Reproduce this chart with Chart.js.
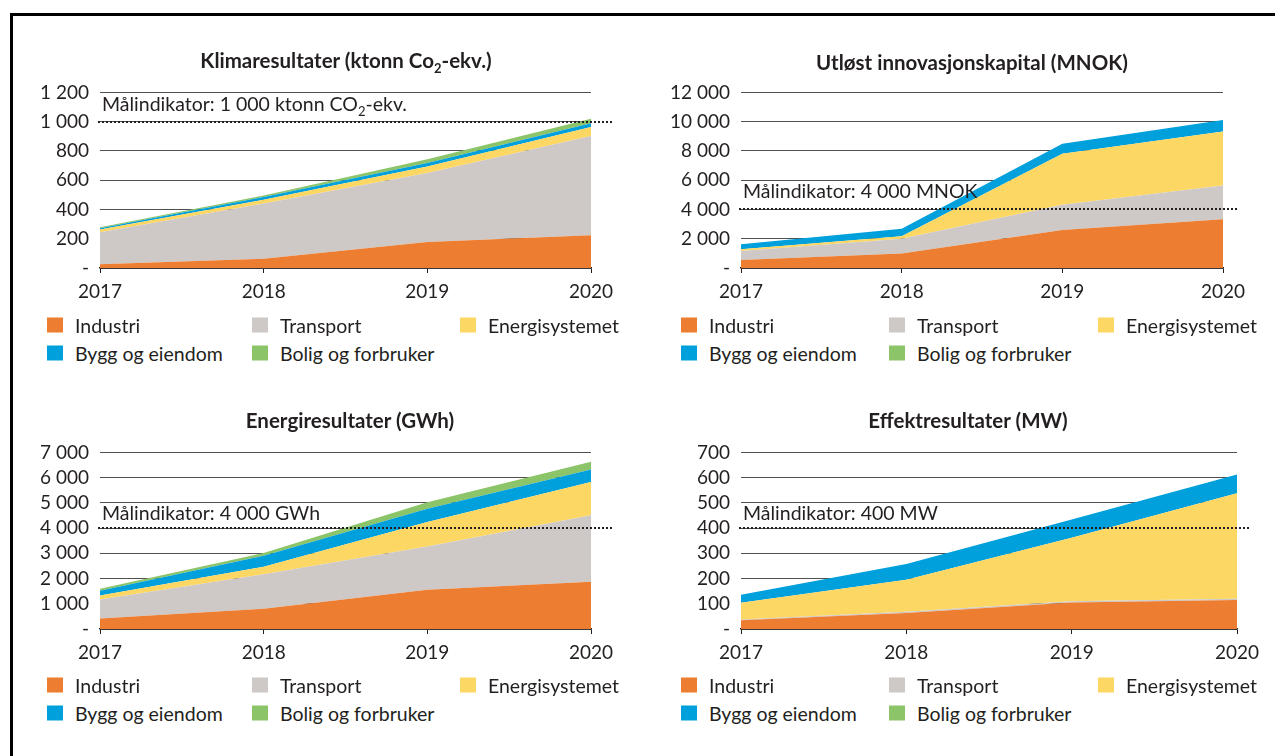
<!DOCTYPE html>
<html>
<head>
<meta charset="utf-8">
<script src="https://cdn.jsdelivr.net/npm/chart.js@4"></script>
<style>
  body { margin: 0; background: #fff; font-family: Lato, "Open Sans", sans-serif; color: #231f20; }
  #page { position: relative; width: 1275px; height: 756px; overflow: hidden; }
  .frameTop { position: absolute; left: 10px; top: 13px; right: 0; height: 3px; background: #000; }
  .frameLeft { position: absolute; left: 10px; top: 13px; bottom: 0; width: 3px; background: #000; }
  canvas { position: absolute; }
  .title { position: absolute; font-weight: bold; font-size: 20.5px; white-space: nowrap; transform: translate(-50%, -50%); }
  .title sub { font-size: 13px; vertical-align: -5px; }
  .leg { position: absolute; font-size: 19.5px; white-space: nowrap; transform: translateY(-50%); display: flex; align-items: center; }
  .leg span.box { display: inline-block; width: 16px; height: 15px; margin-right: 12px; }
</style>
</head>
<body>
<div id="page">
  <div class="frameTop"></div>
  <div class="frameLeft"></div>
</div>
<script>
// Data
const years = ['2017', '2018', '2019', '2020'];
const seriesNames = ['Industri', 'Transport', 'Energisystemet', 'Bygg og eiendom', 'Bolig og forbruker'];
const seriesColors = ['#ed7d31', '#cec9c6', '#fdd764', '#00a0dc', '#8cc46a'];

// Klimaresultater (ktonn CO2-ekv.)
const klimaIndustri = [25, 63, 178, 223];
const klimaTransport = [220, 377, 472, 679];
const klimaEnergi = [18, 27, 43, 61];
const klimaBygg = [9, 18, 24, 27];
const klimaBolig = [6, 11, 27, 30];

// Utløst innovasjonskapital (MNOK)
const innovIndustri = [540, 990, 2600, 3330];
const innovTransport = [625, 1010, 1720, 2310];
const innovEnergi = [115, 175, 3490, 3690];
const innovBygg = [335, 500, 680, 790];
const innovBolig = [0, 0, 0, 0];

// Energiresultater (GWh)
const energiIndustri = [420, 800, 1560, 1870];
const energiTransport = [750, 1370, 1710, 2640];
const energiEnergi = [155, 300, 975, 1320];
const energiBygg = [195, 430, 520, 495];
const energiBolig = [80, 115, 260, 300];

// Effektresultater (MW)
const effektIndustri = [35, 63, 105, 115];
const effektTransport = [3, 5, 5, 5];
const effektEnergi = [66, 127, 252, 418];
const effektBygg = [32, 63, 72, 74];
const effektBolig = [0, 0, 0, 0];

const yTicksKlima = [0, 200, 400, 600, 800, 1000, 1200];
const yTicksInnov = [0, 2000, 4000, 6000, 8000, 10000, 12000];
const yTicksEnergi = [0, 1000, 2000, 3000, 4000, 5000, 6000, 7000];
const yTicksEffekt = [0, 100, 200, 300, 400, 500, 600, 700];

const targetKlima = 1000;
const targetInnov = 4000;
const targetEnergi = 4000;
const targetEffekt = 400;

Chart.defaults.font.family = 'Lato, "Open Sans", sans-serif';
Chart.defaults.font.size = 19;
Chart.defaults.color = '#231f20';
Chart.defaults.animation = false;

function fmt(v) {
    if (v === 0) return '-';
    return String(v).replace(/\B(?=(\d{3})+(?!\d))/g, ' ');
}

// dotted target line with its label
const targetPlugin = {
    id: 'target',
    afterDatasetsDraw(chart, args, opts) {
        const ctx = chart.ctx;
        const y = Math.round(chart.scales.y.getPixelForValue(opts.value));
        const a = chart.chartArea;
        ctx.save();
        ctx.strokeStyle = '#231f20';
        ctx.lineWidth = 2;
        ctx.setLineDash([2, 2]);
        ctx.beginPath();
        ctx.moveTo(a.left - 2, y);
        ctx.lineTo(a.right + opts.ext, y);
        ctx.stroke();
        ctx.setLineDash([]);
        ctx.fillStyle = '#231f20';
        ctx.textBaseline = 'alphabetic';
        var x = a.left + 2;
        for (var part of opts.label) {
            if (part.sub) {
                ctx.font = '13px Lato, "Open Sans", sans-serif';
                ctx.fillText(part.t, x, y - opts.up + 5);
            } else {
                ctx.font = '19.5px Lato, "Open Sans", sans-serif';
                ctx.fillText(part.t, x, y - opts.up);
            }
            x += ctx.measureText(part.t).width;
        }
        ctx.restore();
    }
};

function makeChart(c) {
    const page = document.getElementById('page');
    const canvas = document.createElement('canvas');
    canvas.width = c.w;
    canvas.height = c.h;
    canvas.style.left = c.x + 'px';
    canvas.style.top = c.y + 'px';
    canvas.style.width = c.w + 'px';
    canvas.style.height = c.h + 'px';
    page.appendChild(canvas);

    var datasets = [];
    for (var i = 0; i < c.series.length; i++) {
        datasets.push({
            label: seriesNames[i],
            data: c.series[i],
            backgroundColor: seriesColors[i],
            borderWidth: 0,
            pointRadius: 0,
            fill: i === 0 ? 'origin' : '-1',
            tension: 0
        });
    }

    const axisBottom = c.h - (c.bottom - c.y);
    new Chart(canvas, {
        type: 'line',
        data: { labels: years, datasets: datasets },
        options: {
            responsive: false,
            devicePixelRatio: 1,
            layout: {
                padding: { left: 0, right: c.x + c.w - c.right, top: c.top - c.y, bottom: 0 }
            },
            plugins: {
                legend: { display: false },
                tooltip: { enabled: false },
                target: { value: c.target, ext: c.ext, up: c.up, label: c.label }
            },
            scales: {
                x: {
                    type: 'category',
                    offset: false,
                    grid: { drawOnChartArea: false, drawTicks: true, tickLength: 5, color: '#231f20', lineWidth: 1 },
                    border: { display: true, color: '#231f20', width: 1.5 },
                    ticks: { padding: 7, maxRotation: 0, autoSkip: false },
                    afterFit(axis) { axis.height = axisBottom; }
                },
                y: {
                    stacked: true,
                    min: 0,
                    max: c.yTicks[c.yTicks.length - 1],
                    afterBuildTicks(axis) { axis.ticks = c.yTicks.map(v => ({ value: v })); },
                    grid: { color: '#505050', lineWidth: 1, drawTicks: false },
                    border: { display: false },
                    ticks: { padding: 11, autoSkip: false, callback: v => fmt(v) },
                    afterFit(axis) { axis.width = c.left - c.x; }
                }
            }
        },
        plugins: [targetPlugin]
    });

    const t = document.createElement('div');
    t.className = 'title';
    t.innerHTML = c.title;
    t.style.left = c.titleX + 'px';
    t.style.top = c.titleY + 'px';
    page.appendChild(t);

    const rows = [c.legRow1, c.legRow1, c.legRow1, c.legRow2, c.legRow2];
    const cols = [c.legCols[0], c.legCols[1], c.legCols[2], c.legCols[0], c.legCols[1]];
    for (var j = 0; j < seriesNames.length; j++) {
        const d = document.createElement('div');
        d.className = 'leg';
        d.style.left = cols[j] + 'px';
        d.style.top = rows[j] + 'px';
        d.innerHTML = '<span class="box" style="background:' + seriesColors[j] + '"></span>' + seriesNames[j];
        page.appendChild(d);
    }
}

makeChart({
    x: 0, y: 70, w: 640, h: 245, left: 100, right: 591, top: 91, bottom: 268,
    series: [klimaIndustri, klimaTransport, klimaEnergi, klimaBygg, klimaBolig],
    yTicks: yTicksKlima, target: targetKlima, ext: 22, up: 11,
    label: [{ t: 'Målindikator: 1 000 ktonn CO' }, { t: '2', sub: true }, { t: '-ekv.' }],
    title: 'Klimaresultater (ktonn Co<sub>2</sub>-ekv.)', titleX: 346, titleY: 62,
    legRow1: 325, legRow2: 353, legCols: [47, 252, 460]
});

makeChart({
    x: 640, y: 70, w: 635, h: 245, left: 741, right: 1223, top: 91, bottom: 268,
    series: [innovIndustri, innovTransport, innovEnergi, innovBygg, innovBolig],
    yTicks: yTicksInnov, target: targetInnov, ext: 14, up: 11,
    label: [{ t: 'Målindikator: 4 000 MNOK' }],
    title: 'Utløst innovasjonskapital (MNOK)', titleX: 972, titleY: 62,
    legRow1: 325, legRow2: 353, legCols: [681, 889, 1098]
});

makeChart({
    x: 0, y: 430, w: 640, h: 245, left: 100, right: 591, top: 449, bottom: 629,
    series: [energiIndustri, energiTransport, energiEnergi, energiBygg, energiBolig],
    yTicks: yTicksEnergi, target: targetEnergi, ext: 21, up: 8,
    label: [{ t: 'Målindikator: 4 000 GWh' }],
    title: 'Energiresultater (GWh)', titleX: 350, titleY: 420,
    legRow1: 685, legRow2: 713, legCols: [47, 252, 460]
});

makeChart({
    x: 640, y: 430, w: 635, h: 245, left: 741, right: 1237, top: 449, bottom: 629,
    series: [effektIndustri, effektTransport, effektEnergi, effektBygg, effektBolig],
    yTicks: yTicksEffekt, target: targetEffekt, ext: 13, up: 8,
    label: [{ t: 'Målindikator: 400 MW' }],
    title: 'Effektresultater (MW)', titleX: 968, titleY: 420,
    legRow1: 685, legRow2: 713, legCols: [681, 889, 1098]
});
</script>
</body>
</html>
